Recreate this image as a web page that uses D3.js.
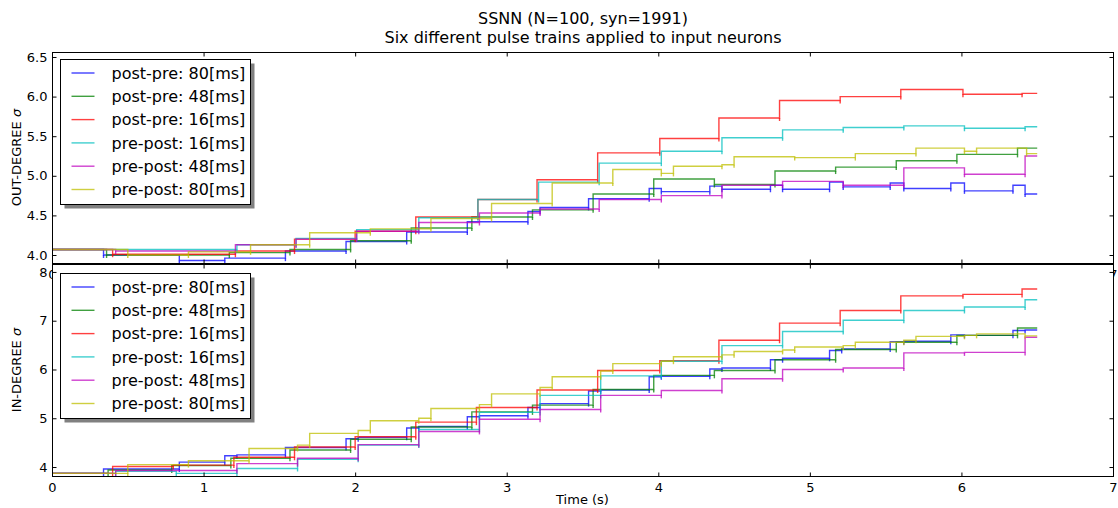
<!DOCTYPE html>
<html>
<head>
<meta charset="utf-8">
<script src="https://cdn.jsdelivr.net/npm/d3@7"></script>
<style>
    body { margin: 0; background: #fff; }
    svg { display: block; font-family: "DejaVu Sans", sans-serif; }
</style>
</head>
<body>
<svg id="chart"></svg>
<script>
// series names and colours (matplotlib classic b, g, r, c, m, y)
const seriesLabels = ['post-pre: 80[ms]', 'post-pre: 48[ms]', 'post-pre: 16[ms]',
    'pre-post: 16[ms]', 'pre-post: 48[ms]', 'pre-post: 80[ms]'];
const seriesColors = ['#0000ff', '#008000', '#ff0000', '#00bfbf', '#bf00bf', '#bfbf00'];

const xTicks = [0, 1, 2, 3, 4, 5, 6, 7];
const outTicks = [4.0, 4.5, 5.0, 5.5, 6.0, 6.5];
const inTicks = [4, 5, 6, 7, 8];

// OUT-DEGREE sigma, [time (s), value], step after
const outPostPre80 = [[0, 4.07], [0.34, 4.00], [0.84, 3.93], [1.14, 3.96], [1.54, 4.05], [1.94, 4.17], [2.34, 4.29],
    [2.74, 4.42], [3.14, 4.55], [3.22, 4.60], [3.54, 4.71], [3.94, 4.84], [4.02, 4.80], [4.34, 4.87], [4.42, 4.83],
    [4.74, 4.88], [4.82, 4.83], [5.13, 4.92], [5.22, 4.86], [5.53, 4.91], [5.62, 4.84], [5.93, 4.91], [6.02, 4.81],
    [6.34, 4.88], [6.42, 4.77], [6.50, 4.77]];
const outPostPre48 = [[0, 4.07], [0.36, 4.00], [1.17, 4.03], [1.57, 4.07], [1.97, 4.18], [2.37, 4.34], [2.77, 4.48],
    [3.17, 4.57], [3.57, 4.77], [3.97, 4.96], [4.37, 4.89], [4.77, 5.06], [5.17, 5.11], [5.57, 5.19], [5.97, 5.27],
    [6.37, 5.35], [6.50, 5.35]];
const outPostPre16 = [[0, 4.07], [0.40, 4.01], [1.21, 4.05], [1.60, 4.20], [2.00, 4.30], [2.40, 4.48], [2.81, 4.70],
    [3.20, 4.95], [3.60, 5.29], [4.01, 5.47], [4.40, 5.73], [4.80, 5.95], [5.20, 6.00], [5.60, 6.09], [6.01, 6.03],
    [6.40, 6.04], [6.50, 6.04]];
const outPrePost16 = [[0, 4.07], [1.22, 4.13], [1.61, 4.21], [2.01, 4.32], [2.42, 4.47], [2.81, 4.70], [3.21, 4.92],
    [3.61, 5.16], [4.02, 5.31], [4.42, 5.48], [4.82, 5.58], [5.22, 5.61], [5.62, 5.63], [6.02, 5.60], [6.42, 5.62],
    [6.50, 5.62]];
const outPrePost48 = [[0, 4.07], [0.42, 4.05], [1.21, 4.13], [1.61, 4.20], [2.01, 4.30], [2.42, 4.41], [2.82, 4.53],
    [3.22, 4.58], [3.61, 4.70], [4.02, 4.75], [4.42, 4.88], [4.82, 4.93], [5.22, 4.88], [5.62, 5.10], [6.02, 5.02],
    [6.42, 5.25], [6.50, 5.25]];
const outPrePost80 = [[0, 4.07], [0.50, 4.00], [0.90, 4.04], [1.31, 4.13], [1.70, 4.28], [2.10, 4.33], [2.50, 4.46],
    [2.90, 4.65], [3.30, 4.91], [3.70, 5.08], [4.02, 5.03], [4.10, 5.12], [4.42, 5.14], [4.50, 5.24], [4.90, 5.23],
    [5.30, 5.28], [5.70, 5.35], [6.02, 5.31], [6.10, 5.35], [6.43, 5.28], [6.50, 5.28]];

// IN-DEGREE sigma
const inPostPre80 = [[0, 3.87], [0.34, 3.96], [0.84, 4.10], [1.14, 4.23], [1.22, 4.25], [1.54, 4.40], [1.94, 4.58],
    [2.02, 4.61], [2.34, 4.80], [2.42, 4.83], [2.74, 5.03], [2.82, 5.05], [3.14, 5.22], [3.22, 5.30], [3.54, 5.56],
    [3.62, 5.58], [3.94, 5.85], [4.02, 5.86], [4.34, 6.01], [4.42, 6.03], [4.74, 6.20], [4.82, 6.23], [5.13, 6.39],
    [5.21, 6.42], [5.53, 6.57], [5.62, 6.58], [5.93, 6.71], [6.02, 6.70], [6.34, 6.80], [6.42, 6.81], [6.50, 6.81]];
const inPostPre48 = [[0, 3.87], [0.37, 3.94], [0.79, 4.03], [1.18, 4.18], [1.57, 4.35], [1.97, 4.57], [2.37, 4.82],
    [2.77, 5.13], [3.17, 5.27], [3.57, 5.59], [3.97, 5.88], [4.37, 5.98], [4.77, 6.20], [5.17, 6.41], [5.57, 6.56],
    [5.97, 6.70], [6.37, 6.85], [6.50, 6.85]];
const inPostPre16 = [[0, 3.87], [0.40, 4.01], [0.80, 4.04], [1.20, 4.20], [1.60, 4.41], [2.00, 4.62], [2.40, 4.92],
    [2.80, 5.22], [3.20, 5.58], [3.60, 5.98], [4.01, 6.18], [4.40, 6.60], [4.80, 6.95], [5.20, 7.21], [5.60, 7.51],
    [6.01, 7.54], [6.40, 7.65], [6.50, 7.65]];
const inPrePost16 = [[0, 3.87], [0.42, 3.91], [0.82, 3.87], [1.22, 3.97], [1.62, 4.16], [2.02, 4.45], [2.42, 4.77],
    [2.82, 5.12], [3.22, 5.47], [3.62, 5.87], [4.02, 6.17], [4.42, 6.49], [4.82, 6.78], [5.22, 7.01], [5.62, 7.21],
    [6.02, 7.28], [6.42, 7.43], [6.50, 7.43]];
const inPrePost48 = [[0, 3.87], [0.42, 3.93], [1.22, 4.07], [1.62, 4.18], [2.02, 4.46], [2.42, 4.73], [2.82, 4.98],
    [3.22, 5.18], [3.62, 5.47], [4.02, 5.57], [4.42, 5.81], [4.82, 6.00], [5.22, 6.03], [5.62, 6.34], [6.02, 6.35],
    [6.42, 6.66], [6.50, 6.66]];
const inPrePost80 = [[0, 3.87], [0.50, 4.05], [0.90, 4.13], [1.30, 4.38], [1.62, 4.45], [1.70, 4.69], [2.02, 4.75],
    [2.10, 4.95], [2.42, 5.00], [2.50, 5.20], [2.82, 5.28], [2.90, 5.50], [3.22, 5.63], [3.30, 5.85], [3.62, 5.97],
    [3.70, 6.12], [4.02, 6.17], [4.10, 6.26], [4.42, 6.30], [4.50, 6.37], [4.82, 6.40], [4.90, 6.46], [5.22, 6.49],
    [5.30, 6.56], [5.62, 6.60], [5.70, 6.68], [6.02, 6.70], [6.10, 6.73], [6.42, 6.69], [6.50, 6.69]];

class StepPanel {

    /**
     * One subplot: frame, ticks, step lines and legend
     */
    constructor(_config, _data) {
        this.config = {
            parentElement: _config.parentElement,
            left: 52,
            right: 1113,
            top: _config.top,
            bottom: _config.bottom,
            yDomain: _config.yDomain,
            yTicks: _config.yTicks,
            yFormat: _config.yFormat,
            yLabel: _config.yLabel,
            xTitle: _config.xTitle || null,
            // the panel below covers the inner x labels, only the two ends peek out
            xLabelsCovered: _config.xLabelsCovered || false,
            legend: {x: 60.5, y: _config.legendTop, width: 190, height: 145, rowHeight: 23.3}
        };
        this.data = _data;
        this.initVis();
    }

    initVis() {
        let vis = this;
        const c = vis.config;

        vis.xScale = d3.scaleLinear().domain([0, 7]).range([c.left, c.right]);
        vis.yScale = d3.scaleLinear().domain(c.yDomain).range([c.bottom, c.top]);

        vis.g = d3.select(c.parentElement).append('g');

        // white axes background (hides the tick labels of the panel above)
        vis.g.append('rect')
            .attr('x', c.left + 0.5)
            .attr('y', c.top + 0.5)
            .attr('width', c.right - c.left)
            .attr('height', c.bottom - c.top)
            .attr('fill', '#fff');

        vis.clipId = 'clip' + Math.round(c.top);
        vis.g.append('clipPath').attr('id', vis.clipId)
            .append('rect')
            .attr('x', c.left).attr('y', c.top)
            .attr('width', c.right - c.left).attr('height', c.bottom - c.top);

        vis.renderVis();
    }

    renderVis() {
        let vis = this;
        const c = vis.config;

        const line = d3.line()
            .x(d => vis.xScale(d[0]))
            .y(d => vis.yScale(d[1]))
            .curve(d3.curveStepAfter);

        const plot = vis.g.append('g').attr('clip-path', `url(#${vis.clipId})`);

        vis.data.forEach((series, i) => {
            plot.append('path')
                .datum(series)
                .attr('fill', 'none')
                .attr('stroke', seriesColors[i])
                .attr('stroke-opacity', 0.75)
                .attr('stroke-width', 1.4)
                .attr('d', line);

            // little overshoot marks at each jump
            const jumps = series.slice(1, -1).map((d, k) => ({t: d[0], lo: Math.min(d[1], series[k][1])}));
            plot.selectAll(null)
                .data(jumps)
                .join('line')
                .attr('x1', d => vis.xScale(d.t))
                .attr('x2', d => vis.xScale(d.t))
                .attr('y1', d => vis.yScale(d.lo))
                .attr('y2', d => vis.yScale(d.lo) + 3)
                .attr('stroke', seriesColors[i])
                .attr('stroke-opacity', 0.75)
                .attr('stroke-width', 1.4);
        });

        // axes, ticks pointing inward on all four sides
        const axes = vis.g.append('g');

        const xFormat = c.xLabelsCovered
            ? (d => (d === 0 || d === 7) ? d3.format('d')(d) : '')
            : d3.format('d');

        axes.append('g')
            .attr('transform', `translate(${c.left + 0.5},0)`)
            .call(d3.axisLeft(vis.yScale).tickValues(c.yTicks).tickFormat(c.yFormat)
                .tickSizeInner(-4).tickSizeOuter(0).tickPadding(5));
        axes.append('g')
            .attr('transform', `translate(${c.right + 0.5},0)`)
            .call(d3.axisRight(vis.yScale).tickValues(c.yTicks).tickFormat('')
                .tickSizeInner(-4).tickSizeOuter(0));
        axes.append('g')
            .attr('transform', `translate(0,${c.bottom + 0.5})`)
            .call(d3.axisBottom(vis.xScale).tickValues(xTicks).tickFormat(xFormat)
                .tickSizeInner(-4).tickSizeOuter(0).tickPadding(6));
        axes.append('g')
            .attr('transform', `translate(0,${c.top + 0.5})`)
            .call(d3.axisTop(vis.xScale).tickValues(xTicks).tickFormat('')
                .tickSizeInner(-4).tickSizeOuter(0));

        axes.selectAll('g')
            .attr('font-size', 13)
            .attr('font-family', '"DejaVu Sans", sans-serif');
        axes.selectAll('.domain').remove();
        axes.selectAll('.tick line').attr('stroke', '#000');
        axes.selectAll('.tick text').attr('fill', '#000');

        vis.g.append('rect')
            .attr('x', c.left + 0.5)
            .attr('y', c.top + 0.5)
            .attr('width', c.right - c.left)
            .attr('height', c.bottom - c.top)
            .attr('fill', 'none')
            .attr('stroke', '#000')
            .attr('stroke-width', 1);

        // y label with italic sigma
        const yl = vis.g.append('text')
            .attr('transform', `translate(21,${(c.top + c.bottom) / 2}) rotate(-90)`)
            .attr('text-anchor', 'middle')
            .style('font-size', '13px');
        yl.append('tspan').text(c.yLabel + ' ');
        yl.append('tspan').style('font-style', 'italic').text('σ');

        if (c.xTitle) {
            vis.g.append('text')
                .attr('x', (c.left + c.right) / 2)
                .attr('y', c.bottom + 28)
                .attr('text-anchor', 'middle')
                .style('font-size', '13px')
                .text(c.xTitle);
        }

        vis.renderLegend();
    }

    renderLegend() {
        let vis = this;
        const L = vis.config.legend;

        const leg = vis.g.append('g');
        leg.append('rect')
            .attr('x', L.x + 4).attr('y', L.y + 4)
            .attr('width', L.width).attr('height', L.height)
            .attr('fill', '#808080');
        leg.append('rect')
            .attr('x', L.x).attr('y', L.y)
            .attr('width', L.width).attr('height', L.height)
            .attr('fill', '#fff')
            .attr('stroke', '#000');

        const rows = leg.selectAll('.legend-row')
            .data(seriesLabels)
            .join('g')
            .attr('class', 'legend-row')
            .attr('transform', (d, i) => `translate(0,${L.y + 13.5 + i * L.rowHeight})`);

        rows.append('line')
            .attr('x1', L.x + 11).attr('x2', L.x + 34)
            .attr('stroke', (d, i) => seriesColors[i])
            .attr('stroke-opacity', 0.75)
            .attr('stroke-width', 1.4);

        rows.append('text')
            .attr('x', L.x + 51)
            .attr('y', 5.8)
            .style('font-size', '16px')
            .text(d => d);
    }
}

const svg = d3.select('#chart').attr('width', 1118).attr('height', 508);

svg.append('text')
    .attr('x', 583).attr('y', 24)
    .attr('text-anchor', 'middle')
    .style('font-size', '16px')
    .text('SSNN (N=100, syn=1991)');
svg.append('text')
    .attr('x', 583).attr('y', 43)
    .attr('text-anchor', 'middle')
    .style('font-size', '16px')
    .text('Six different pulse trains applied to input neurons');

new StepPanel({
    parentElement: '#chart', top: 52, bottom: 263,
    yDomain: [3.899, 6.563], yTicks: outTicks, yFormat: d3.format('.1f'),
    yLabel: 'OUT-DEGREE', legendTop: 59.5, xLabelsCovered: true
}, [outPostPre80, outPostPre48, outPostPre16, outPrePost16, outPrePost48, outPrePost80]);

new StepPanel({
    parentElement: '#chart', top: 264, bottom: 476,
    yDomain: [3.816, 8.163], yTicks: inTicks, yFormat: d3.format('d'),
    yLabel: 'IN-DEGREE', legendTop: 273.5, xTitle: 'Time (s)'
}, [inPostPre80, inPostPre48, inPostPre16, inPrePost16, inPrePost48, inPrePost80]);
</script>
</body>
</html>
